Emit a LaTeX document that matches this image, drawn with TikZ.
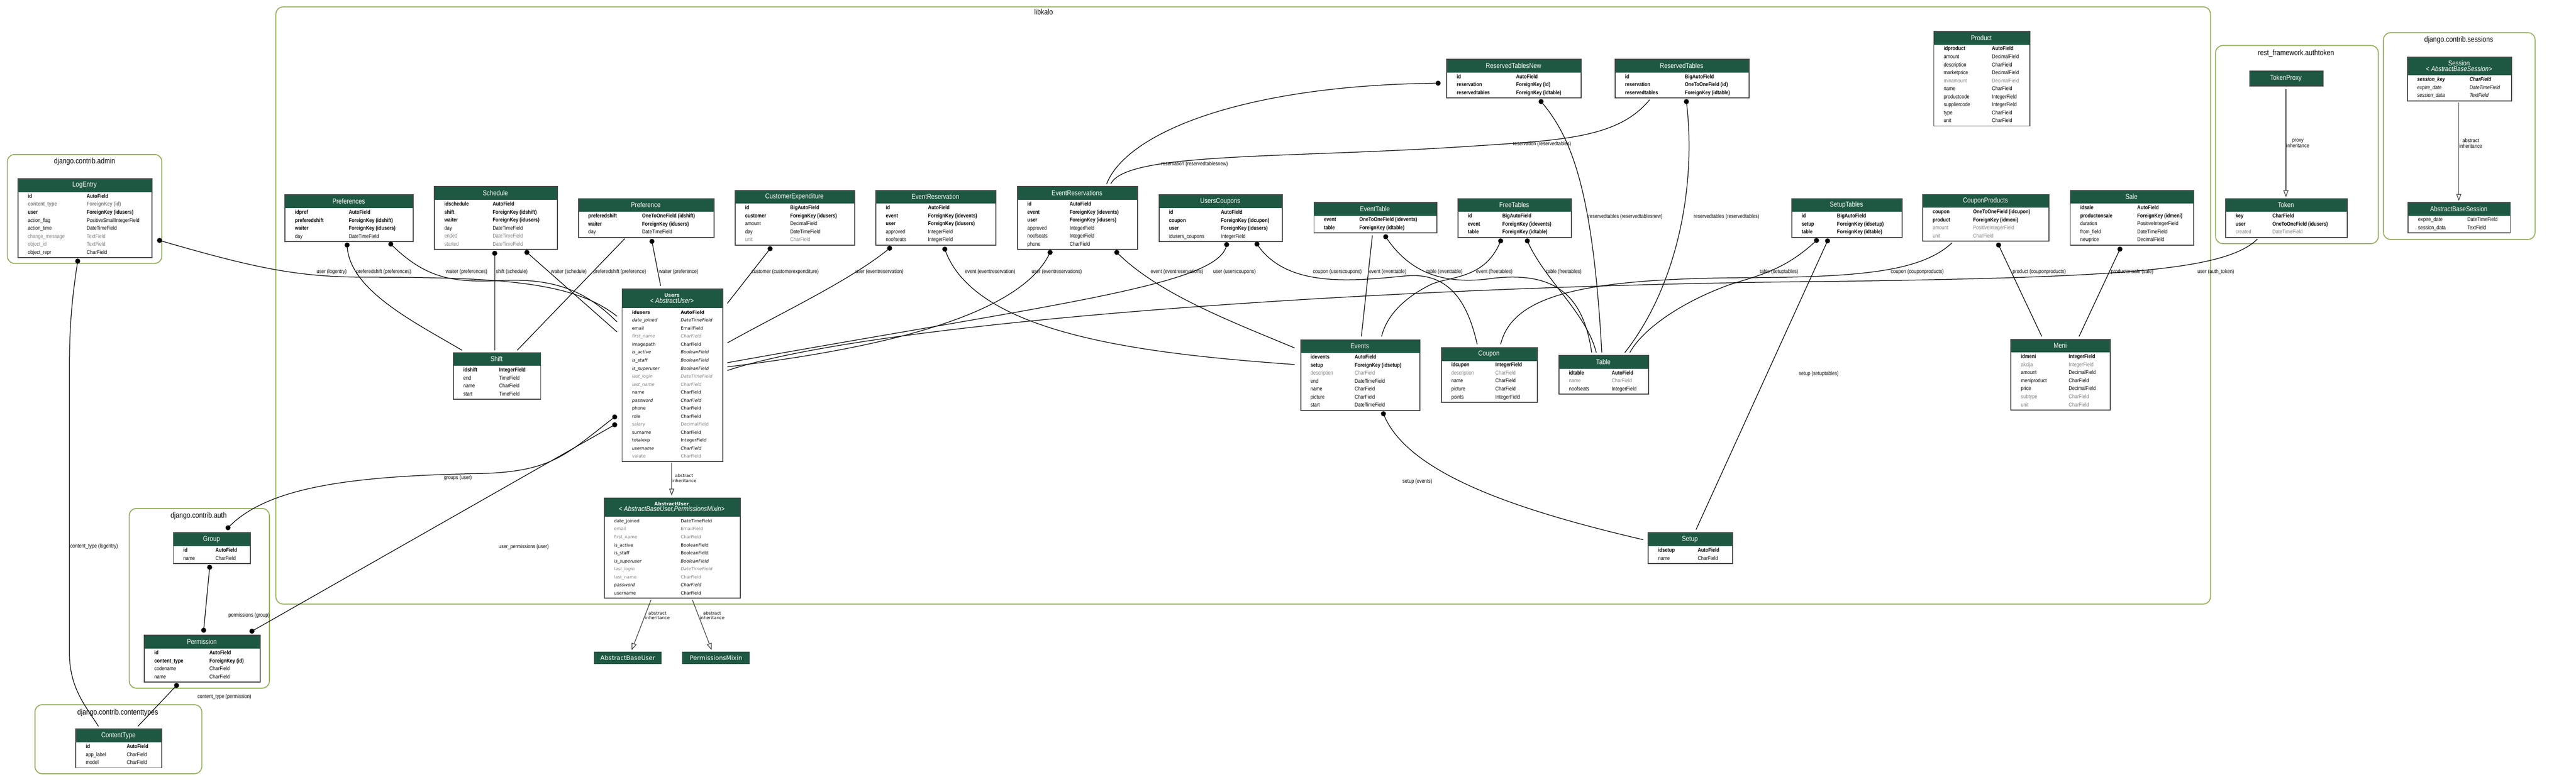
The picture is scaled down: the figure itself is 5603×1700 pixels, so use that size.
\documentclass[tikz,border=0pt]{standalone}
\usepackage{fontspec}
\setmainfont[FakeStretch=0.85]{Liberation Sans}
\newfontfamily\widefont{DejaVu Sans}
\usetikzlibrary{arrows.meta}

\definecolor{hdrgreen}{HTML}{1E5842}
\definecolor{clustergreen}{HTML}{96B05E}
\definecolor{fieldgray}{HTML}{808080}
\definecolor{framegray}{HTML}{4A4A4A}

\newcommand{\fieldfont}{\rmfamily\fontsize{3.4}{4}\selectfont}
\newcommand{\hdrfont}{\fontsize{4.4}{3.6}\selectfont}

\tikzset{
  tblframe/.style={draw=framegray, line width=0.6pt, inner sep=0pt, anchor=north west},
  hdrtext/.style={text=white, font=\hdrfont, align=center, inner sep=0pt},
  field/.style={anchor=base west, inner sep=0pt, font=\fieldfont},
  fn/.style={},
  fb/.style={font=\fieldfont\bfseries},
  fg/.style={text=fieldgray},
  fgb/.style={text=fieldgray, font=\fieldfont\bfseries},
  fi/.style={font=\fieldfont\itshape},
  fgi/.style={text=fieldgray, font=\fieldfont\itshape},
  fbi/.style={font=\fieldfont\bfseries\itshape},
  cluster/.style={draw=clustergreen, line width=0.6pt, rounded corners=1.6mm},
  clustertitle/.style={font=\fontsize{4.8}{5.5}\selectfont, inner sep=0pt},
  rel/.style={line width=0.4pt},
  edgelabel/.style={font=\fontsize{3.4}{4}\selectfont, anchor=west, inner sep=0pt},
  inherit/.style={draw=black!75, line width=0.4pt, -{Triangle[open, length=1.5mm, width=1.1mm]}},
  inheritlabel/.style={font=\fontsize{3.4}{3.6}\selectfont, align=center, inner sep=0pt},
  basebox/.style={fill=hdrgreen, text=white, font=\widefont\fontsize{3.8}{4.4}\selectfont, minimum width=14.7mm, minimum height=2.7mm, inner sep=0pt},
}

% table: [header height]{name}{left}{top}{width}{type column}{title}{fields}
\newcommand{\dbtable}[8][30]{%
  \fill[hdrgreen] (#3,#4) rectangle (#3+#5,#4+#1);
  \node[hdrtext] (#2-title) at (#3+#5/2,#4+#1/2) {#7};
  \foreach \fname/\ftype/\fstyle [count=\rowi] in {#8} {
    \node[field,\fstyle] (#2-n\rowi) at (#3+22,#4+#1+\rowi*17.4-4.6) {\fname};
    \node[field,\fstyle] (#2-t\rowi) at (#3+#6,#4+#1+\rowi*17.4-4.6) {\ftype};
    \xdef\nrows{\rowi}
  }
  \node[tblframe, minimum width=#5*0.1mm, minimum height=(#1+\nrows*17.4+2)*0.1mm] (#2) at (#3,#4) {};
}

\begin{document}
\begin{tikzpicture}[x=0.1mm, y=-0.1mm]
  \fill[white] (0,0) rectangle (5603,1700);
  \useasboundingbox (0,0) rectangle (5603,1700);

  % app clusters
  \draw[cluster] (16,336) rectangle (352,573);
  \node[clustertitle] (admin-title) at (184,352) {django.contrib.admin};
  \draw[cluster] (600,15) rectangle (4808,1314);
  \node[clustertitle] (libkalo-title) at (2270,26) {libkalo};
  \draw[cluster] (281,1106) rectangle (586,1497);
  \node[clustertitle] (auth-title) at (432,1122) {django.contrib.auth};
  \draw[cluster] (76,1533) rectangle (439,1683);
  \node[clustertitle] (ct-title) at (256,1550) {django.contrib.contenttypes};
  \draw[cluster] (4819,99) rectangle (5173,530);
  \node[clustertitle] (authtoken-title) at (4994,116) {rest\_framework.authtoken};
  \draw[cluster] (5184,71) rectangle (5514,521);
  \node[clustertitle] (sessions-title) at (5348,87) {django.contrib.sessions};

  % models
  \dbtable{LogEntry}{38}{388}{292}{150}{LogEntry}{id/AutoField/fb, content\_type/ForeignKey (id)/fgb, user/ForeignKey (idusers)/fb, action\_flag/PositiveSmallIntegerField/fn, action\_time/DateTimeField/fn, change\_message/TextField/fg, object\_id/TextField/fg, object\_repr/CharField/fn}
  \dbtable{Preferences}{619}{423}{279}{139}{Preferences}{idpref/AutoField/fb, preferedshift/ForeignKey (idshift)/fb, waiter/ForeignKey (idusers)/fb, day/DateTimeField/fn}
  \dbtable{Schedule}{944}{405}{267}{127}{Schedule}{idschedule/AutoField/fb, shift/ForeignKey (idshift)/fb, waiter/ForeignKey (idusers)/fb, day/DateTimeField/fn, ended/DateTimeField/fg, started/DateTimeField/fg}
  \dbtable{Preference}{1257}{431}{295}{139}{Preference}{preferedshift/OneToOneField (idshift)/fb, waiter/ForeignKey (idusers)/fb, day/DateTimeField/fn}
  \dbtable{CustomerExpenditure}{1598}{413}{260}{120}{CustomerExpenditure}{id/BigAutoField/fb, customer/ForeignKey (idusers)/fb, amount/DecimalField/fn, day/DateTimeField/fn, unit/CharField/fg}
  \dbtable{EventReservation}{1904}{413}{261}{114}{EventReservation}{id/AutoField/fb, event/ForeignKey (idevents)/fb, user/ForeignKey (idusers)/fb, approved/IntegerField/fn, noofseats/IntegerField/fn}
  \dbtable{EventReservations}{2212}{405}{261}{114}{EventReservations}{id/AutoField/fb, event/ForeignKey (idevents)/fb, user/ForeignKey (idusers)/fb, approved/IntegerField/fn, noofseats/IntegerField/fn, phone/CharField/fn}
  \dbtable{UsersCoupons}{2520}{423}{268}{135}{UsersCoupons}{id/AutoField/fb, coupon/ForeignKey (idcupon)/fb, user/ForeignKey (idusers)/fb, idusers\_coupons/IntegerField/fn}
  \dbtable{EventTable}{2857}{439}{267}{99}{EventTable}{event/OneToOneField (idevents)/fb, table/ForeignKey (idtable)/fb}
  \dbtable{FreeTables}{3170}{431}{247}{97}{FreeTables}{id/BigAutoField/fb, event/ForeignKey (idevents)/fb, table/ForeignKey (idtable)/fb}
  \dbtable{ReservedTablesNew}{3146}{128}{292}{151}{ReservedTablesNew}{id/AutoField/fb, reservation/ForeignKey (id)/fb, reservedtables/ForeignKey (idtable)/fb}
  \dbtable{ReservedTables}{3512}{128}{291}{152}{ReservedTables}{id/BigAutoField/fb, reservation/OneToOneField (id)/fb, reservedtables/ForeignKey (idtable)/fb}
  \dbtable{Product}{4205}{67}{209}{127}{Product}{idproduct/AutoField/fb, amount/DecimalField/fn, description/CharField/fn, marketprice/DecimalField/fn, minamount/DecimalField/fg, name/CharField/fn, productcode/IntegerField/fn, suppliercode/IntegerField/fn, type/CharField/fn, unit/CharField/fn}
  \dbtable{SetupTables}{3896}{431}{240}{99}{SetupTables}{id/BigAutoField/fb, setup/ForeignKey (idsetup)/fb, table/ForeignKey (idtable)/fb}
  \dbtable{CouponProducts}{4181}{422}{275}{110}{CouponProducts}{coupon/OneToOneField (idcupon)/fb, product/ForeignKey (idmeni)/fb, amount/PositiveIntegerField/fg, unit/CharField/fg}
  \dbtable{Sale}{4502}{413}{268}{146}{Sale}{idsale/AutoField/fb, productonsale/ForeignKey (idmeni)/fb, duration/PositiveIntegerField/fn, from\_field/DateTimeField/fn, newprice/DecimalField/fn}
  \dbtable{Events}{2828}{738}{259}{118}{Events}{idevents/AutoField/fb, setup/ForeignKey (idsetup)/fb, description/CharField/fg, end/DateTimeField/fn, name/CharField/fn, picture/CharField/fn, start/DateTimeField/fn}
  \dbtable{Coupon}{3134}{755}{209}{118}{Coupon}{idcupon/IntegerField/fb, description/CharField/fg, name/CharField/fn, picture/CharField/fn, points/IntegerField/fn}
  \dbtable{Table}{3390}{772}{195}{115}{Table}{idtable/AutoField/fb, name/CharField/fg, noofseats/IntegerField/fn}
  \dbtable{Meni}{4373}{737}{216}{126}{Meni}{idmeni/IntegerField/fb, akcija/IntegerField/fg, amount/DecimalField/fn, meniproduct/CharField/fn, price/DecimalField/fn, subtype/CharField/fg, unit/CharField/fg}
  \dbtable{Shift}{985}{766}{190}{100}{Shift}{idshift/IntegerField/fb, end/TimeField/fn, name/CharField/fn, start/TimeField/fn}
  \dbtable{Setup}{3584}{1158}{183}{108}{Setup}{idsetup/AutoField/fb, name/CharField/fn}
  \dbtable{Group}{376}{1158}{168}{92}{Group}{id/AutoField/fb, name/CharField/fn}
  \dbtable{Permission}{313}{1381}{252}{142}{Permission}{id/AutoField/fb, content\_type/ForeignKey (id)/fb, codename/CharField/fn, name/CharField/fn}
  \dbtable{ContentType}{164}{1585}{187}{111}{ContentType}{id/AutoField/fb, app\_label/CharField/fn, model/CharField/fn}
  \dbtable{Token}{4840}{431}{264}{102}{Token}{key/CharField/fb, user/OneToOneField (idusers)/fb, created/DateTimeField/fg}
  \dbtable[41]{Session}{5235}{123}{227}{136}{Session\\ \itshape < AbstractBaseSession>}{session\_key/CharField/fbi, expire\_date/DateTimeField/fi, session\_data/TextField/fi}
  \dbtable{AbstractBaseSession}{5237}{439}{222}{129}{AbstractBaseSession}{expire\_date/DateTimeField/fn, session\_data/TextField/fn}
  \fill[hdrgreen] (4892,154) rectangle (5052,186);
  \node[hdrtext] (TokenProxy-title) at (4972,170) {TokenProxy};
  \node[tblframe, minimum width=16mm, minimum height=3.2mm] (TokenProxy) at (4892,154) {};

  \renewcommand{\fieldfont}{\widefont\fontsize{2.7}{3.2}\selectfont}
  \dbtable[42]{Users}{1352}{628}{219}{128}{\widefont\bfseries\fontsize{3}{3.7}\selectfont Users\\ \itshape < AbstractUser>}{idusers/AutoField/fb, date\_joined/DateTimeField/fi, email/EmailField/fn, first\_name/CharField/fgi, imagepath/CharField/fn, is\_active/BooleanField/fi, is\_staff/BooleanField/fi, is\_superuser/BooleanField/fi, last\_login/DateTimeField/fgi, last\_name/CharField/fgi, name/CharField/fn, password/CharField/fi, phone/CharField/fn, role/CharField/fn, salary/DecimalField/fg, surname/CharField/fn, totalexp/IntegerField/fn, username/CharField/fi, valute/CharField/fg}
  \dbtable[42]{AbstractUser}{1313}{1082}{296}{167}{\widefont\bfseries\fontsize{2.9}{3.7}\selectfont AbstractUser\\ \itshape < AbstractBaseUser,PermissionsMixin>}{date\_joined/DateTimeField/fn, email/EmailField/fg, first\_name/CharField/fg, is\_active/BooleanField/fn, is\_staff/BooleanField/fn, is\_superuser/BooleanField/fi, last\_login/DateTimeField/fgi, last\_name/CharField/fg, password/CharField/fi, username/CharField/fn}
  \renewcommand{\fieldfont}{\rmfamily\fontsize{3.4}{4}\selectfont}
  \node[basebox] (AbstractBaseUser) at (1365.5,1431.5) {AbstractBaseUser};
  \node[basebox] (PermissionsMixin) at (1557.5,1431.5) {PermissionsMixin};

  % attachment points
  \coordinate (le-user) at (347,523);
  \coordinate (le-ct) at (169,568);
  \coordinate (prefs-shift) at (755,533);
  \coordinate (prefs-waiter) at (850,531);
  \coordinate (sched-shift) at (1076,551);
  \coordinate (sched-waiter) at (1146,549);
  \coordinate (pref-shift) at (1359,519);
  \coordinate (pref-waiter) at (1418,525);
  \coordinate (ce-customer) at (1675,541);
  \coordinate (er-user) at (1935,540);
  \coordinate (er-event) at (2055,542);
  \coordinate (ers-user) at (2284,549);
  \coordinate (ers-event) at (2429,549);
  \coordinate (ers-res1) at (2407,400);
  \coordinate (ers-res2) at (2416,400);
  \coordinate (uc-user) at (2668,532);
  \coordinate (uc-coupon) at (2734,531);
  \coordinate (et-event) at (2985,512);
  \coordinate (et-table) at (3014,515);
  \coordinate (ft-event) at (3264,524);
  \coordinate (ft-table) at (3322,524);
  \coordinate (rtn-res) at (3128,181);
  \coordinate (rtn-table) at (3352,221);
  \coordinate (rt-res) at (3588,217);
  \coordinate (rt-table) at (3668,221);
  \coordinate (st-table) at (3951,523);
  \coordinate (st-setup) at (3975,524);
  \coordinate (cp-coupon) at (4246,528);
  \coordinate (cp-product) at (4347,533);
  \coordinate (sale-product) at (4611,542);
  \coordinate (ev-setup) at (3009,900);
  \coordinate (token-user) at (4910,520);
  \coordinate (users-groups) at (1337,907);
  \coordinate (users-perms) at (1337,924);
  \coordinate (group-users) at (496,1148);
  \coordinate (group-perms) at (456,1234);
  \coordinate (perm-group) at (443,1371);
  \coordinate (perm-users) at (548,1373);
  \coordinate (perm-ct) at (384,1491);
  \coordinate (users-w1) at (1342,688);
  \coordinate (users-w2) at (1342,700);
  \coordinate (users-w3) at (1342,722);
  \coordinate (users-n) at (1437,622);
  \coordinate (users-e1) at (1582,660);
  \coordinate (users-e2) at (1582,746);
  \coordinate (users-e3) at (1582,789);
  \coordinate (users-e4) at (1582,798);
  \coordinate (users-e5) at (1582,806);
  \coordinate (users-s) at (1461,1006);
  \coordinate (absuser-n) at (1461,1078);
  \coordinate (absuser-s1) at (1416,1305);
  \coordinate (absuser-s2) at (1506,1305);
  \coordinate (abu-n) at (1374,1414);
  \coordinate (pm-n) at (1548,1414);
  \coordinate (shift-n1) at (1005,762);
  \coordinate (shift-n2) at (1076,762);
  \coordinate (shift-n3) at (1125,762);
  \coordinate (events-w1) at (2816,757);
  \coordinate (events-w2) at (2816,793);
  \coordinate (events-n1) at (2961,732);
  \coordinate (events-n2) at (3005,732);
  \coordinate (coupon-n1) at (3213,749);
  \coordinate (coupon-n2) at (3264,749);
  \coordinate (table-n1) at (3462,767);
  \coordinate (table-n2) at (3472,767);
  \coordinate (table-n3) at (3484,767);
  \coordinate (table-n4) at (3534,767);
  \coordinate (table-n5) at (3545,767);
  \coordinate (setup-n) at (3689,1152);
  \coordinate (setup-w) at (3574,1174);
  \coordinate (meni-n1) at (4441,732);
  \coordinate (meni-n2) at (4522,732);
  \coordinate (ct-n1) at (214,1580);
  \coordinate (ct-n2) at (300,1580);
  \coordinate (tokenproxy-s) at (4972,194);
  \coordinate (token-n) at (4972,429);
  \coordinate (session-s) at (5348,223);
  \coordinate (abs-session-n) at (5348,437);

  % relations
  \draw[rel] (le-user) .. controls (560,585) and (650,603) .. (800,603) .. controls (1100,603) and (1250,615) .. (users-w1);
  \draw[rel] (le-ct) .. controls (158,640) and (151,700) .. (151,800) -- (151,1420) .. controls (151,1500) and (190,1540) .. (ct-n1);
  \draw[rel] (prefs-shift) .. controls (758,630) and (900,700) .. (shift-n1);
  \draw[rel] (prefs-waiter) .. controls (930,610) and (990,615) .. (1100,610) .. controls (1230,605) and (1290,650) .. (users-w2);
  \draw[rel] (sched-shift) -- (shift-n2);
  \draw[rel] (sched-waiter) -- (users-w3);
  \draw[rel] (pref-shift) -- (shift-n3);
  \draw[rel] (pref-waiter) -- (users-n);
  \draw[rel] (ce-customer) -- (users-e1);
  \draw[rel] (er-user) .. controls (1850,610) and (1700,680) .. (users-e2);
  \draw[rel] (er-event) .. controls (2120,730) and (2500,770) .. (events-w2);
  \draw[rel] (ers-user) .. controls (2220,690) and (1900,760) .. (users-e4);
  \draw[rel] (ers-event) .. controls (2520,640) and (2680,700) .. (events-w1);
  \draw[rel] (uc-user) .. controls (2655,620) and (2300,660) .. (users-e3);
  \draw[rel] (uc-coupon) .. controls (2800,630) and (2950,610) .. (3060,600) .. controls (3160,592) and (3195,670) .. (coupon-n1);
  \draw[rel] (et-event) -- (events-n1);
  \draw[rel] (et-table) .. controls (3070,600) and (3150,620) .. (3250,605) .. controls (3390,590) and (3445,650) .. (table-n1);
  \draw[rel] (ft-event) .. controls (3230,610) and (3150,600) .. (3110,620) .. controls (3050,650) and (3015,690) .. (events-n2);
  \draw[rel] (ft-table) .. controls (3360,610) and (3450,680) .. (table-n2);
  \draw[rel] (rtn-table) .. controls (3420,300) and (3465,420) .. (table-n3);
  \draw[rel] (rt-table) .. controls (3690,400) and (3650,620) .. (table-n4);
  \draw[rel] (rtn-res) .. controls (2700,185) and (2450,290) .. (ers-res1);
  \draw[rel] (rt-res) .. controls (3520,300) and (3400,305) .. (3200,318) .. controls (2800,345) and (2450,330) .. (ers-res2);
  \draw[rel] (st-table) .. controls (3880,590) and (3820,600) .. (3760,620) .. controls (3650,660) and (3570,720) .. (table-n5);
  \draw[rel] (st-setup) -- (setup-n);
  \draw[rel] (cp-coupon) .. controls (4180,590) and (4050,603) .. (3800,604) .. controls (3450,606) and (3290,640) .. (coupon-n2);
  \draw[rel] (cp-product) -- (meni-n1);
  \draw[rel] (sale-product) -- (meni-n2);
  \draw[rel] (token-user) .. controls (4840,590) and (4600,603) .. (4000,612) .. controls (3000,620) and (1900,700) .. (users-e5);
  \draw[rel] (ev-setup) .. controls (3060,1030) and (3300,1110) .. (setup-w);
  \draw[rel] (users-groups) .. controls (1230,990) and (1200,1025) .. (1050,1030) .. controls (760,1035) and (580,1060) .. (group-users);
  \draw[rel] (users-perms) -- (perm-users);
  \draw[rel] (group-perms) -- (perm-group);
  \draw[rel] (perm-ct) -- (ct-n2);

  \foreach \d in {le-user, le-ct, prefs-shift, prefs-waiter, sched-shift, sched-waiter, pref-waiter, ce-customer, er-user, er-event, ers-user, ers-event, uc-user, uc-coupon, et-table, ft-event, ft-table, rtn-res, rtn-table, rt-table, st-table, st-setup, cp-product, sale-product, ev-setup, users-groups, users-perms, group-users, group-perms, perm-group, perm-users, perm-ct}
    \fill (\d) circle (0.55mm);

  % inheritance
  \draw[inherit] (users-s) -- (absuser-n);
  \draw[inherit] (absuser-s1) -- (abu-n);
  \draw[inherit] (absuser-s2) -- (pm-n);
  \draw[inherit] (tokenproxy-s) -- (token-n);
  \draw[inherit] (session-s) -- (abs-session-n);
  \node[inheritlabel, font=\widefont\fontsize{2.7}{3.1}\selectfont] (lbl-users-inh) at (1488,1040) {abstract\\inheritance};
  \node[inheritlabel, font=\widefont\fontsize{2.7}{3.1}\selectfont] (lbl-abu-inh) at (1430,1339) {abstract\\inheritance};
  \node[inheritlabel, font=\widefont\fontsize{2.7}{3.1}\selectfont] (lbl-pm-inh) at (1549,1339) {abstract\\inheritance};
  \node[inheritlabel] (lbl-token-inh) at (4998,312) {proxy\\inheritance};
  \node[inheritlabel] (lbl-session-inh) at (5374,312) {abstract\\inheritance};

  % relation labels
  \node[edgelabel] (lbl-le-user) at (688,591) {user (logentry)};
  \node[edgelabel] (lbl-prefs-shift) at (774,591) {preferedshift (preferences)};
  \node[edgelabel] (lbl-prefs-waiter) at (969,591) {waiter (preferences)};
  \node[edgelabel] (lbl-sched-shift) at (1078,591) {shift (schedule)};
  \node[edgelabel] (lbl-sched-waiter) at (1198,591) {waiter (schedule)};
  \node[edgelabel] (lbl-pref-shift) at (1290,591) {preferedshift (preference)};
  \node[edgelabel] (lbl-pref-waiter) at (1433,591) {waiter (preference)};
  \node[edgelabel] (lbl-ce-customer) at (1634,591) {customer (customerexpenditure)};
  \node[edgelabel] (lbl-er-user) at (1860,591) {user (eventreservation)};
  \node[edgelabel] (lbl-er-event) at (2098,591) {event (eventreservation)};
  \node[edgelabel] (lbl-ers-user) at (2243,591) {user (eventreservations)};
  \node[edgelabel] (lbl-ers-event) at (2502,591) {event (eventreservations)};
  \node[edgelabel] (lbl-uc-user) at (2638,591) {user (userscoupons)};
  \node[edgelabel] (lbl-uc-coupon) at (2855,591) {coupon (userscoupons)};
  \node[edgelabel] (lbl-et-event) at (2977,591) {event (eventtable)};
  \node[edgelabel] (lbl-et-table) at (3102,591) {table (eventtable)};
  \node[edgelabel] (lbl-ft-event) at (3210,591) {event (freetables)};
  \node[edgelabel] (lbl-ft-table) at (3363,591) {table (freetables)};
  \node[edgelabel] (lbl-rtn-table) at (3454,471) {reservedtables (reservedtablesnew)};
  \node[edgelabel] (lbl-rt-table) at (3683,471) {reservedtables (reservedtables)};
  \node[edgelabel] (lbl-rtn-res) at (2525,357) {reservation (reservedtablesnew)};
  \node[edgelabel] (lbl-rt-res) at (3290,313) {reservation (reservedtables)};
  \node[edgelabel] (lbl-st-table) at (3827,591) {table (setuptables)};
  \node[edgelabel] (lbl-cp-coupon) at (4112,591) {coupon (couponproducts)};
  \node[edgelabel] (lbl-cp-product) at (4377,591) {product (couponproducts)};
  \node[edgelabel] (lbl-sale-product) at (4591,591) {productonsale (sale)};
  \node[edgelabel] (lbl-token-user) at (4779,591) {user (auth\_token)};
  \node[edgelabel] (lbl-st-setup) at (3912,813) {setup (setuptables)};
  \node[edgelabel] (lbl-ev-setup) at (3050,1048) {setup (events)};
  \node[edgelabel] (lbl-le-ct) at (152,1189) {content\_type (logentry)};
  \node[edgelabel] (lbl-users-groups) at (965,1040) {groups (user)};
  \node[edgelabel] (lbl-users-perms) at (1084,1190) {user\_permissions (user)};
  \node[edgelabel] (lbl-group-perms) at (496,1339) {permissions (group)};
  \node[edgelabel] (lbl-perm-ct) at (429,1516) {content\_type (permission)};
\end{tikzpicture}
\end{document}
